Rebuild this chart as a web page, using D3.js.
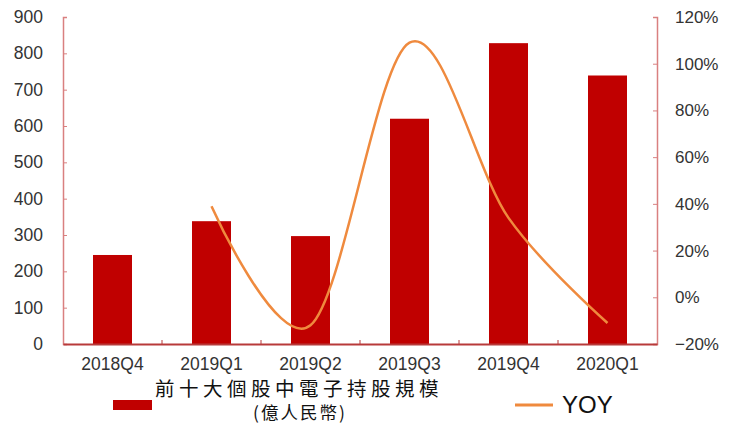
<!DOCTYPE html>
<html>
<head>
<meta charset="utf-8">
<script src="https://cdn.jsdelivr.net/npm/d3@7"></script>
<style>
  body { margin: 0; background: #fff; }
  text { font-family: "Liberation Sans", Arial, sans-serif; fill: #333; }
  .legend-cn { font-family: "Noto Sans CJK TC", "Noto Sans CJK SC", sans-serif; fill: #111; }
</style>
</head>
<body>
<div id="chart"></div>
<script>
// data
let quarters = ["2018Q4", "2019Q1", "2019Q2", "2019Q3", "2019Q4", "2020Q1"];
let holdings = [245, 338, 297, 620, 828, 739];
let yoyQuarters = ["2019Q1", "2019Q2", "2019Q3", "2019Q4", "2020Q1"];
let yoy = [0.39, -0.12, 1.09, 0.34, -0.11];
let leftTicks = [0, 100, 200, 300, 400, 500, 600, 700, 800, 900];
let rightTicks = [-0.2, 0, 0.2, 0.4, 0.6, 0.8, 1.0, 1.2];

let width = 729, height = 424;
let margin = {top: 17, right: 72, bottom: 80, left: 63};
let w = width - margin.left - margin.right;
let h = height - margin.top - margin.bottom;

let svg = d3.select("#chart").append("svg")
    .attr("width", width)
    .attr("height", height);

let g = svg.append("g")
    .attr("transform", `translate(${margin.left}, ${margin.top})`);

// scales
let xc = d3.scaleBand().domain(quarters).range([0, w]);
let y = d3.scaleLinear().domain([0, 900]).range([h, 0]);
let y2 = d3.scaleLinear().domain([-0.2, 1.2]).range([h, 0]);
let barW = 39;

// bars
g.selectAll(".bar")
    .data(quarters)
    .enter().append("rect")
    .attr("class", "bar")
    .attr("x", d => xc(d) + xc.bandwidth() / 2 - barW / 2)
    .attr("width", barW)
    .attr("y", (d, i) => y(holdings[i]))
    .attr("height", (d, i) => h - y(holdings[i]))
    .attr("fill", "#c00000");

// yoy line
let line = d3.line()
    .x((d, i) => xc(yoyQuarters[i]) + xc.bandwidth() / 2)
    .y(d => y2(d))
    .curve(d3.curveCatmullRom.alpha(0));

g.append("path")
    .datum(yoy)
    .attr("fill", "none")
    .attr("stroke", "#ef8a3e")
    .attr("stroke-width", 2.5)
    .attr("d", line);

// axes
let yAxis = d3.axisLeft(y).tickValues(leftTicks).tickSize(-4).tickPadding(20);
let yAxisG = g.append("g").call(yAxis);
yAxisG.select(".domain").attr("stroke", "#d98080").attr("stroke-width", 1.5);
yAxisG.selectAll(".tick line").attr("stroke", "#d98080");
yAxisG.selectAll(".tick text").attr("font-size", 17.5).attr("fill", "#333");

let y2Axis = d3.axisRight(y2).tickValues(rightTicks).tickSize(-4).tickPadding(18)
    .tickFormat(d3.format(".0%"));
let y2AxisG = g.append("g").attr("transform", `translate(${w}, 0)`).call(y2Axis);
y2AxisG.select(".domain").attr("stroke", "#d98080").attr("stroke-width", 1.5);
y2AxisG.selectAll(".tick line").attr("stroke", "#d98080");
y2AxisG.selectAll(".tick text").attr("font-size", 17).attr("fill", "#333");

let xAxis = d3.axisBottom(xc).tickSize(0).tickPadding(14);
let xAxisG = g.append("g").attr("transform", `translate(0, ${h})`).call(xAxis);
xAxisG.select(".domain").attr("stroke", "#b83a3a").attr("stroke-width", 2);
xAxisG.selectAll(".tick text").attr("font-size", 17.5).attr("fill", "#333");

// category separators on x axis
g.selectAll(".xsep")
    .data(quarters.slice(1))
    .enter().append("line")
    .attr("class", "xsep")
    .attr("x1", d => xc(d)).attr("x2", d => xc(d))
    .attr("y1", h).attr("y2", h - 4)
    .attr("stroke", "#b83a3a");

// legend
svg.append("rect")
    .attr("x", 113).attr("y", 400)
    .attr("width", 39).attr("height", 10)
    .attr("fill", "#c00000");
svg.append("text")
    .attr("class", "legend-cn")
    .attr("x", 155).attr("y", 396)
    .attr("font-size", 19.5)
    .attr("letter-spacing", 4.5)
    .text("前十大個股中電子持股規模");
svg.append("text")
    .attr("class", "legend-cn")
    .attr("x", 300).attr("y", 419)
    .attr("text-anchor", "middle")
    .attr("font-size", 17.5)
    .attr("letter-spacing", 2)
    .text("(億人民幣)");

svg.append("line")
    .attr("x1", 515).attr("x2", 553)
    .attr("y1", 405).attr("y2", 405)
    .attr("stroke", "#ef8a3e")
    .attr("stroke-width", 3);
svg.append("text")
    .attr("x", 562).attr("y", 413)
    .attr("font-size", 24)
    .style("fill", "#111")
    .text("YOY");
</script>
</body>
</html>
